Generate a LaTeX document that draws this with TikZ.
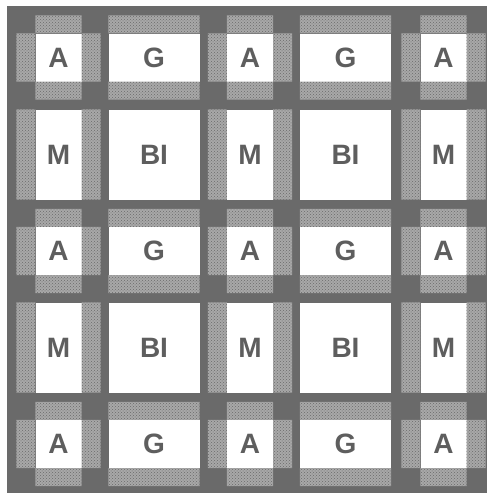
\documentclass[tikz,border=0pt]{standalone}
\usepackage{fontspec}
\setmainfont{Liberation Sans}
\usetikzlibrary{patterns}
\definecolor{framegray}{HTML}{6A6A6A}
\definecolor{bandgray}{HTML}{A8A8A8}
\definecolor{lettergray}{HTML}{5E5E5E}

\tikzset{%
  every cell/.style={
    fill=white,
    inner sep=0pt,
    font=\fontsize{28}{28}\selectfont\bfseries,
    text=lettergray
  },
  a cell/.style={every cell, minimum width=46pt, minimum height=48pt},
  g cell/.style={every cell, minimum width=91pt, minimum height=48pt},
  m cell/.style={every cell, minimum width=46pt, minimum height=90pt},
  bi cell/.style={every cell, minimum width=91pt, minimum height=90pt},
  band/.style={
    fill=bandgray,
    postaction={pattern=crosshatch dots, pattern color=framegray}
  },
}

\begin{document}
\begin{tikzpicture}[x=1pt,y=-1pt]
  \useasboundingbox (0,0) rectangle (488,498);
  \fill [framegray] (7,6) rectangle (487,493);
  % row 1
  \node [a cell ] (a-11) at ( 58.5 , 57.5) {A} ;
  \node [g cell ] (g-12) at (154   , 57.5) {G} ;
  \node [a cell ] (a-13) at (250   , 57.5) {A} ;
  \node [g cell ] (g-14) at (345.5 , 57.5) {G} ;
  \node [a cell ] (a-15) at (443.5 , 57.5) {A} ;
  % row 2
  \node [m cell ] (m-21) at ( 58.5 ,154.5) {M} ;
  \node [bi cell] (b-22) at (154   ,154.5) {BI\hspace{6pt}} ;
  \node [m cell ] (m-23) at (250   ,154.5) {M} ;
  \node [bi cell] (b-24) at (345.5 ,154.5) {BI\hspace{6pt}} ;
  \node [m cell ] (m-25) at (443.5 ,154.5) {M} ;
  % row 3
  \node [a cell ] (a-31) at ( 58.5 ,251) {A} ;
  \node [g cell ] (g-32) at (154   ,251) {G} ;
  \node [a cell ] (a-33) at (250   ,251) {A} ;
  \node [g cell ] (g-34) at (345.5 ,251) {G} ;
  \node [a cell ] (a-35) at (443.5 ,251) {A} ;
  % row 4
  \node [m cell ] (m-41) at ( 58.5 ,347.5) {M} ;
  \node [bi cell] (b-42) at (154   ,347.5) {BI\hspace{6pt}} ;
  \node [m cell ] (m-43) at (250   ,347.5) {M} ;
  \node [bi cell] (b-44) at (345.5 ,347.5) {BI\hspace{6pt}} ;
  \node [m cell ] (m-45) at (443.5 ,347.5) {M} ;
  % row 5
  \node [a cell ] (a-51) at ( 58.5 ,444) {A} ;
  \node [g cell ] (g-52) at (154   ,444) {G} ;
  \node [a cell ] (a-53) at (250   ,444) {A} ;
  \node [g cell ] (g-54) at (345.5 ,444) {G} ;
  \node [a cell ] (a-55) at (443.5 ,444) {A} ;
  % side bands (left/right) of the narrow columns
  \fill [band] ([xshift=-19pt]a-11.south west) rectangle (a-11.north west) (a-11.south east) rectangle ([xshift=19pt]a-11.north east);
  \fill [band] ([xshift=-19pt]a-13.south west) rectangle (a-13.north west) (a-13.south east) rectangle ([xshift=19pt]a-13.north east);
  \fill [band] ([xshift=-19pt]a-15.south west) rectangle (a-15.north west) (a-15.south east) rectangle ([xshift=19pt]a-15.north east);
  \fill [band] ([xshift=-19pt]m-21.south west) rectangle (m-21.north west) (m-21.south east) rectangle ([xshift=19pt]m-21.north east);
  \fill [band] ([xshift=-19pt]m-23.south west) rectangle (m-23.north west) (m-23.south east) rectangle ([xshift=19pt]m-23.north east);
  \fill [band] ([xshift=-19pt]m-25.south west) rectangle (m-25.north west) (m-25.south east) rectangle ([xshift=19pt]m-25.north east);
  \fill [band] ([xshift=-19pt]a-31.south west) rectangle (a-31.north west) (a-31.south east) rectangle ([xshift=19pt]a-31.north east);
  \fill [band] ([xshift=-19pt]a-33.south west) rectangle (a-33.north west) (a-33.south east) rectangle ([xshift=19pt]a-33.north east);
  \fill [band] ([xshift=-19pt]a-35.south west) rectangle (a-35.north west) (a-35.south east) rectangle ([xshift=19pt]a-35.north east);
  \fill [band] ([xshift=-19pt]m-41.south west) rectangle (m-41.north west) (m-41.south east) rectangle ([xshift=19pt]m-41.north east);
  \fill [band] ([xshift=-19pt]m-43.south west) rectangle (m-43.north west) (m-43.south east) rectangle ([xshift=19pt]m-43.north east);
  \fill [band] ([xshift=-19pt]m-45.south west) rectangle (m-45.north west) (m-45.south east) rectangle ([xshift=19pt]m-45.north east);
  \fill [band] ([xshift=-19pt]a-51.south west) rectangle (a-51.north west) (a-51.south east) rectangle ([xshift=19pt]a-51.north east);
  \fill [band] ([xshift=-19pt]a-53.south west) rectangle (a-53.north west) (a-53.south east) rectangle ([xshift=19pt]a-53.north east);
  \fill [band] ([xshift=-19pt]a-55.south west) rectangle (a-55.north west) (a-55.south east) rectangle ([xshift=19pt]a-55.north east);
  % top/bottom bands of the short rows
  \fill [band] ([yshift=18pt]a-11.north west) rectangle (a-11.north east) (a-11.south west) rectangle ([yshift=-18pt]a-11.south east);
  \fill [band] ([yshift=18pt]g-12.north west) rectangle (g-12.north east) (g-12.south west) rectangle ([yshift=-18pt]g-12.south east);
  \fill [band] ([yshift=18pt]a-13.north west) rectangle (a-13.north east) (a-13.south west) rectangle ([yshift=-18pt]a-13.south east);
  \fill [band] ([yshift=18pt]g-14.north west) rectangle (g-14.north east) (g-14.south west) rectangle ([yshift=-18pt]g-14.south east);
  \fill [band] ([yshift=18pt]a-15.north west) rectangle (a-15.north east) (a-15.south west) rectangle ([yshift=-18pt]a-15.south east);
  \fill [band] ([yshift=18pt]a-31.north west) rectangle (a-31.north east) (a-31.south west) rectangle ([yshift=-18pt]a-31.south east);
  \fill [band] ([yshift=18pt]g-32.north west) rectangle (g-32.north east) (g-32.south west) rectangle ([yshift=-18pt]g-32.south east);
  \fill [band] ([yshift=18pt]a-33.north west) rectangle (a-33.north east) (a-33.south west) rectangle ([yshift=-18pt]a-33.south east);
  \fill [band] ([yshift=18pt]g-34.north west) rectangle (g-34.north east) (g-34.south west) rectangle ([yshift=-18pt]g-34.south east);
  \fill [band] ([yshift=18pt]a-35.north west) rectangle (a-35.north east) (a-35.south west) rectangle ([yshift=-18pt]a-35.south east);
  \fill [band] ([yshift=18pt]a-51.north west) rectangle (a-51.north east) (a-51.south west) rectangle ([yshift=-18pt]a-51.south east);
  \fill [band] ([yshift=18pt]g-52.north west) rectangle (g-52.north east) (g-52.south west) rectangle ([yshift=-18pt]g-52.south east);
  \fill [band] ([yshift=18pt]a-53.north west) rectangle (a-53.north east) (a-53.south west) rectangle ([yshift=-18pt]a-53.south east);
  \fill [band] ([yshift=18pt]g-54.north west) rectangle (g-54.north east) (g-54.south west) rectangle ([yshift=-18pt]g-54.south east);
  \fill [band] ([yshift=18pt]a-55.north west) rectangle (a-55.north east) (a-55.south west) rectangle ([yshift=-18pt]a-55.south east);
\end{tikzpicture}
\end{document}
